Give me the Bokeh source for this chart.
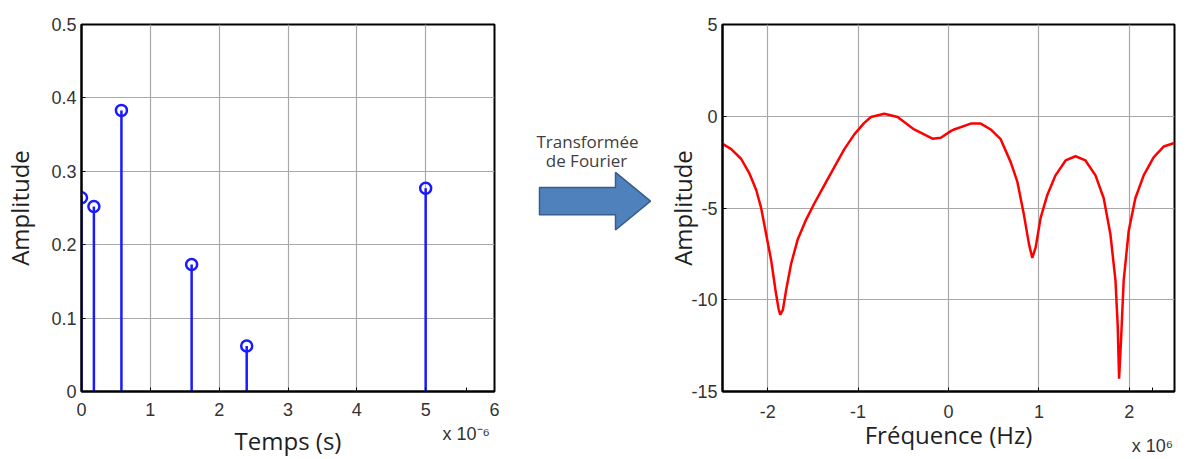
from bokeh.plotting import figure
from bokeh.layouts import row
from bokeh.models import Range1d, FixedTicker, ColumnDataSource
from bokeh.core.properties import value
from bokeh.embed import file_html
from bokeh.resources import INLINE

# ---------------- data ----------------
# left: impulse response (time in units of 1e-6 s)
time_us = [0.0, 0.18, 0.58, 1.6, 2.4, 5.0]
time_amp = [0.264, 0.252, 0.383, 0.173, 0.062, 0.277]
x1_ticks = [0, 1, 2, 3, 4, 5, 6]
x1_labels = ["0", "1", "2", "3", "4", "5", "6"]
y1_ticks = [0, 0.1, 0.2, 0.3, 0.4, 0.5]
y1_labels = ["0", "0.1", "0.2", "0.3", "0.4", "0.5"]
x1_multiplier = "x 10⁻⁶"

# right: spectrum (frequency in units of 1e6 Hz)
freq_mhz = [-2.5, -2.494, -2.403, -2.293, -2.201, -2.127, -2.072, -2.017, -1.961,
            -1.914, -1.881, -1.862, -1.832, -1.796, -1.741, -1.667, -1.575, -1.483,
            -1.373, -1.263, -1.152, -1.042, -0.932, -0.858, -0.711, -0.563, -0.38,
            -0.177, -0.085, 0.025, 0.062, 0.246, 0.357, 0.467, 0.577, 0.688, 0.762,
            0.834, 0.89, 0.927, 0.964, 1.019, 1.093, 1.184, 1.295, 1.405, 1.515,
            1.626, 1.717, 1.791, 1.847, 1.872, 1.887, 1.909, 1.938, 1.993, 2.067,
            2.159, 2.269, 2.38, 2.49, 2.5]
freq_amp = [-1.50, -1.52, -1.79, -2.33, -3.13, -4.02, -5.01, -6.43, -7.87,
            -9.47, -10.46, -10.82, -10.55, -9.47, -8.04, -6.70, -5.63, -4.74,
            -3.75, -2.77, -1.79, -0.99, -0.36, -0.04, 0.14, -0.04, -0.72,
            -1.22, -1.17, -0.81, -0.72, -0.40, -0.40, -0.72, -1.25, -2.50, -3.58,
            -5.36, -6.97, -7.72, -7.15, -5.54, -4.29, -3.22, -2.41, -2.18, -2.41,
            -3.22, -4.47, -6.43, -8.94, -11.44, -14.30, -12.16, -8.94, -6.26, -4.47,
            -3.22, -2.24, -1.65, -1.47, -1.46]
x2_ticks = [-2, -1, 0, 1, 2]
x2_labels = ["-2", "-1", "0", "1", "2"]
y2_ticks = [-15, -10, -5, 0, 5]
y2_labels = ["-15", "-10", "-5", "0", "5"]
x2_multiplier = "x 10⁶"

TICK_FONT = "Liberation Sans"
LABEL_FONT = "Open Sans"


def style(p, xt, xl, yt, yl, mult_pos, mult_text, xlab, ylab):
    # axis ticks (+ one extra position carrying the MATLAB-style multiplier)
    p.xaxis.ticker = FixedTicker(ticks=list(xt) + [mult_pos])
    p.yaxis.ticker = FixedTicker(ticks=yt)
    over = {t: l for t, l in zip(xt, xl)}
    over[mult_pos] = "\n" + mult_text
    p.xaxis.major_label_overrides = over
    p.yaxis.major_label_overrides = {t: l for t, l in zip(yt, yl)}
    p.xgrid.ticker = FixedTicker(ticks=xt)
    p.ygrid.ticker = FixedTicker(ticks=yt)
    for ax in (p.xaxis[0], p.yaxis[0]):
        ax.major_label_text_font = TICK_FONT
        ax.major_label_text_font_size = "18px"
        ax.major_label_text_color = "#333333"
        ax.major_tick_in = 4
        ax.major_tick_out = 0
        ax.major_tick_line_color = "black"
        ax.minor_tick_line_color = None
        ax.axis_line_color = "black"
        ax.axis_line_width = 2
        ax.axis_label_text_font = LABEL_FONT
        ax.axis_label_text_font_size = "24px"
        ax.axis_label_text_font_style = "normal"
        ax.axis_label_text_color = "#1f1f1f"
    p.yaxis.major_label_standoff = 5
    p.xaxis.axis_label = xlab
    p.yaxis.axis_label = ylab
    p.grid.grid_line_color = "#a8a8a8"
    p.grid.grid_line_width = 1.2
    p.outline_line_color = "black"
    p.outline_line_width = 2
    p.background_fill_color = "white"
    p.border_fill_color = "white"


# ---------------- left figure ----------------
p1 = figure(width=510, height=459, x_range=Range1d(0, 6), y_range=Range1d(0, 0.5),
            output_backend="svg", toolbar_location=None,
            min_border_left=77, min_border_right=16, min_border_top=24, min_border_bottom=68)
style(p1, x1_ticks, x1_labels, y1_ticks, y1_labels, 5.59, x1_multiplier, "Temps (s)", "Amplitude")
p1.xaxis.major_label_standoff = 8
p1.xaxis.major_label_text_line_height = 1.2
p1.xaxis.axis_label_standoff = -23
p1.yaxis.axis_label_standoff = 12

src1 = ColumnDataSource(dict(t=time_us, a=time_amp, z=[0] * len(time_us)))
p1.segment(x0="t", y0="z", x1="t", y1="a", source=src1, line_color="#1a1aff", line_width=2.5)
p1.scatter(x="t", y="a", source=src1, marker="circle", size=11, fill_color=None,
           line_color="#1a1aff", line_width=2.5)

# ---------------- middle (arrow) ----------------
pm = figure(width=150, height=459, x_range=Range1d(510, 660), y_range=Range1d(459, 0),
            output_backend="svg", toolbar_location=None,
            min_border_left=0, min_border_right=0, min_border_top=0, min_border_bottom=0)
pm.axis.visible = False
pm.grid.visible = False
pm.outline_line_color = None
arrow_x = [539, 615, 615, 650, 615, 615, 539]
arrow_y = [204, 204, 185, 221, 257, 238, 238]
pm.patch(arrow_x, arrow_y, fill_color="#4F81BD", line_color="#385D8A", line_width=1.5)
pm.text(x=[587, 586], y=[146, 170], text=["Transformée", "de Fourier"],
        text_font=value(LABEL_FONT), text_font_size="17px", text_color="#404040",
        text_align="center", text_baseline="middle")

# ---------------- right figure ----------------
p2 = figure(width=530, height=459, x_range=Range1d(-2.5, 2.5), y_range=Range1d(-15, 5),
            output_backend="svg", toolbar_location=None,
            min_border_left=62, min_border_right=16, min_border_top=20, min_border_bottom=66)
style(p2, x2_ticks, x2_labels, y2_ticks, y2_labels, 2.255, x2_multiplier, "Fréquence (Hz)", "Amplitude")
p2.xaxis.major_label_standoff = 10
p2.xaxis.major_label_text_line_height = 1.7
p2.xaxis.axis_label_standoff = -41
p2.yaxis.axis_label_standoff = -11

p2.line(freq_mhz, freq_amp, line_color="#ff0000", line_width=2.5)

layout = row(p1, pm, p2, spacing=0)
open("out.html", "w").write(file_html(layout, INLINE))
